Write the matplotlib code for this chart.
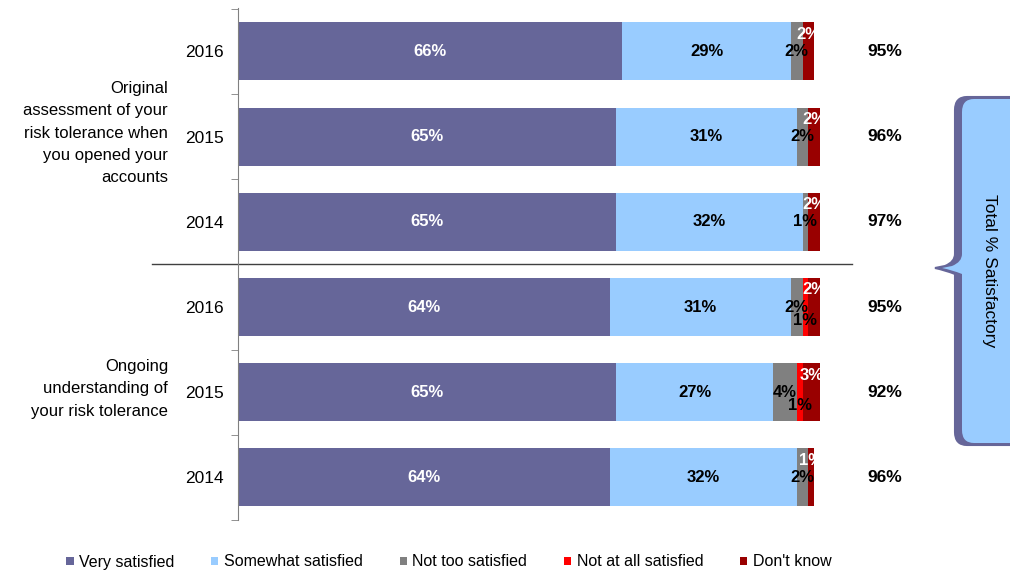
import matplotlib.pyplot as plt
import numpy as np
from matplotlib.path import Path
from matplotlib.patches import PathPatch

plt.rcParams['font.family'] = ['Liberation Sans', 'DejaVu Sans']

# survey results, top row first
years = ["2016", "2015", "2014", "2016", "2015", "2014"]
very = [66, 65, 65, 64, 65, 64]
somewhat = [29, 31, 32, 31, 27, 32]
not_too = [2, 2, 1, 2, 4, 2]
not_at_all = [0, 0, 0, 1, 1, 0]
dont_know = [2, 2, 2, 2, 3, 1]
totals = [95, 96, 97, 95, 92, 96]

groups = ["Original\nassessment of your\nrisk tolerance when\nyou opened your\naccounts",
          "Ongoing\nunderstanding of\nyour risk tolerance"]
series_names = ["Very satisfied", "Somewhat satisfied", "Not too satisfied",
                "Not at all satisfied", "Don't know"]
colors = ["#666699", "#99ccff", "#808080", "#ff0000", "#990000"]
label_colors = ["white", "black", "black", "black", "white"]
label_dy = [0, 0, 0, 0.16, -0.2]

W, H = 1010, 571
fig = plt.figure(figsize=(W / 100, H / 100), dpi=100)


def fx(px):
    return px / W


def fy(py):
    return 1 - py / H


ax = fig.add_axes([fx(238), fy(520), 582 / W, 512 / H])

y = np.arange(len(years))
series = [very, somewhat, not_too, not_at_all, dont_know]
left = np.zeros(len(years))
for i, vals in enumerate(series):
    vals = np.array(vals, dtype=float)
    ax.barh(y, vals, left=left, height=0.68, color=colors[i],
            label=series_names[i], edgecolor='none')
    for j, v in enumerate(vals):
        if v <= 0:
            continue
        ax.text(left[j] + v / 2, y[j] + label_dy[i], f"{int(v)}%",
                ha='center', va='center', fontsize=12, fontweight='bold',
                color=label_colors[i])
    left += vals

for j, t in enumerate(totals):
    ax.text(111.2, y[j], f"{t}%", ha='center', va='center',
            fontsize=12.5, fontweight='bold', color='black')

ax.set_xlim(0, 100)
ax.set_ylim(5.455, -0.51)
ax.set_yticks(y)
ax.set_yticklabels(years, fontsize=12.5)
ax.set_yticks(np.arange(-0.5, 6, 1), minor=True)
ax.tick_params(axis='y', which='major', length=0, pad=10)
ax.tick_params(axis='y', which='minor', length=5, direction='out', color='#808080')
ax.set_xticks([])
for s in ['top', 'right', 'bottom']:
    ax.spines[s].set_visible(False)
ax.spines['left'].set_color('#808080')

# separator between the two groups
ax.plot([-14.8, 105.5], [2.5, 2.5], color='#404040', lw=1, clip_on=False)

fig.text(fx(168), fy(133), groups[0], ha='right', va='center', fontsize=12,
         linespacing=1.62)
fig.text(fx(168), fy(389), groups[1], ha='right', va='center', fontsize=12,
         linespacing=1.62)

# brace-shaped callout on the right: dark back shape, light face shifted right
pts = [(1015, 97), (967, 97), (967, 97), (955, 97), (955, 110),
       (955, 254), (955, 262), (945, 266), (935, 268),
       (945, 270), (955, 274), (955, 282),
       (955, 432), (955, 445), (967, 445), (1015, 445), (1015, 97)]
codes = [Path.MOVETO, Path.LINETO, Path.LINETO, Path.CURVE3, Path.CURVE3,
         Path.LINETO, Path.CURVE3, Path.CURVE3, Path.LINETO,
         Path.CURVE3, Path.CURVE3, Path.LINETO,
         Path.LINETO, Path.CURVE3, Path.CURVE3, Path.LINETO, Path.CLOSEPOLY]
back = PathPatch(Path([(fx(a), fy(b)) for a, b in pts], codes),
                 transform=fig.transFigure, facecolor="#666699",
                 edgecolor="#666699", lw=1.5)
face_pts = [(a + 7 if a < 1000 else a, b + 2 if b < 200 else (b - 2 if b > 300 else b))
            for a, b in pts]
face = PathPatch(Path([(fx(a), fy(b)) for a, b in face_pts], codes),
                 transform=fig.transFigure, facecolor="#99ccff",
                 edgecolor="none")
fig.patches.extend([back, face])
fig.text(fx(990), fy(271), "Total % Satisfactory", rotation=-90,
         ha='center', va='center', fontsize=12.5)

handles, labels = ax.get_legend_handles_labels()
fig.legend(handles, labels, loc='center', bbox_to_anchor=(fx(449), fy(562)),
           ncol=5, frameon=False, fontsize=11.5, handlelength=0.45,
           handleheight=0.45, handletextpad=0.35, columnspacing=2.3,
           borderaxespad=0, borderpad=0)

fig.savefig("out.png", dpi=100)
